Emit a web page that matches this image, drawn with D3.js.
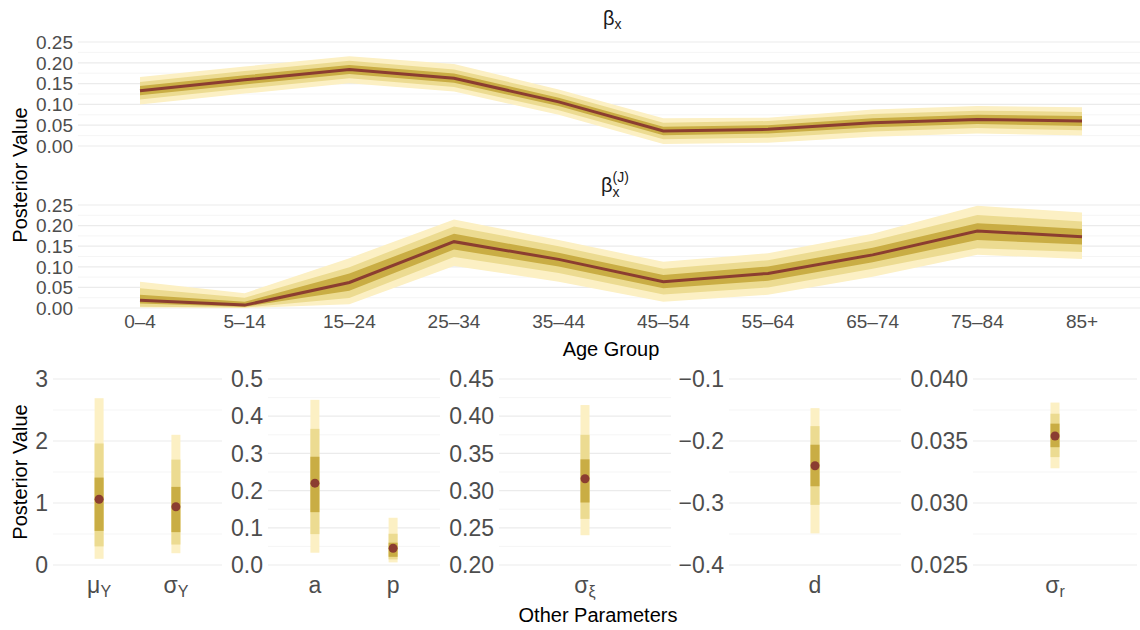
<!doctype html>
<html>
<head>
<meta charset="UTF-8">
<title>posterior</title>
<script src="https://d3js.org/d3.v7.min.js"></script>
<style>
  body { margin: 0; background: #fff; }
  text { font-family: "Liberation Sans", Arial, sans-serif; }
</style>
</head>
<body>
<svg width="1140" height="630"></svg>
<script>
// ---- age-group effects ----
var ageGroups = ["0–4", "5–14", "15–24", "25–34", "35–44", "45–54", "55–64", "65–74", "75–84", "85+"];

var bxMed  = [0.133, 0.159, 0.184, 0.163, 0.106, 0.036, 0.040, 0.056, 0.064, 0.060];
var bxLo95 = [0.100, 0.126, 0.151, 0.131, 0.075, 0.005, 0.008, 0.022, 0.030, 0.025];
var bxHi95 = [0.166, 0.191, 0.216, 0.197, 0.136, 0.067, 0.068, 0.088, 0.096, 0.093];
var bxLo80 = [0.112, 0.138, 0.163, 0.142, 0.086, 0.016, 0.020, 0.035, 0.043, 0.038];
var bxHi80 = [0.154, 0.180, 0.205, 0.184, 0.126, 0.056, 0.060, 0.077, 0.085, 0.082];
var bxLo50 = [0.122, 0.148, 0.173, 0.152, 0.096, 0.026, 0.030, 0.045, 0.053, 0.048];
var bxHi50 = [0.144, 0.170, 0.195, 0.174, 0.116, 0.046, 0.050, 0.067, 0.075, 0.072];

var bjMed  = [0.019, 0.007, 0.062, 0.161, 0.118, 0.064, 0.084, 0.129, 0.187, 0.173];
var bjLo95 = [0.001, 0.000, 0.009, 0.102, 0.064, 0.015, 0.032, 0.076, 0.129, 0.119];
var bjHi95 = [0.064, 0.036, 0.121, 0.215, 0.165, 0.112, 0.133, 0.180, 0.248, 0.232];
var bjLo80 = [0.003, 0.001, 0.024, 0.124, 0.085, 0.033, 0.050, 0.095, 0.145, 0.136];
var bjHi80 = [0.048, 0.025, 0.099, 0.198, 0.150, 0.095, 0.116, 0.163, 0.226, 0.210];
var bjLo50 = [0.011, 0.003, 0.042, 0.142, 0.101, 0.048, 0.066, 0.111, 0.165, 0.154];
var bjHi50 = [0.032, 0.015, 0.084, 0.180, 0.134, 0.080, 0.101, 0.146, 0.206, 0.192];

var topTicks = [0, 0.05, 0.10, 0.15, 0.20, 0.25];

// ---- other parameters ----
var parMain  = ["μ", "σ", "a", "p", "σ", "d", "σ"];
var parSub   = ["Y", "Y", "", "", "ξ", "", "r"];
var parPanel = [0, 0, 1, 1, 2, 3, 4];
var parMed   = [1.06, 0.94, 0.220, 0.045, 0.316, -0.240, 0.0354];
var parLo95  = [0.10, 0.19, 0.033, 0.007, 0.240, -0.349, 0.0328];
var parHi95  = [2.69, 2.10, 0.444, 0.127, 0.415, -0.147, 0.0381];
var parLo80  = [0.30, 0.33, 0.083, 0.015, 0.262, -0.303, 0.0337];
var parHi80  = [1.96, 1.70, 0.366, 0.084, 0.375, -0.176, 0.0372];
var parLo50  = [0.55, 0.53, 0.142, 0.022, 0.284, -0.273, 0.0345];
var parHi50  = [1.41, 1.26, 0.291, 0.060, 0.342, -0.206, 0.0364];

var panelTicks = [
    [0, 1, 2, 3],
    [0, 0.1, 0.2, 0.3, 0.4, 0.5],
    [0.20, 0.25, 0.30, 0.35, 0.40, 0.45],
    [-0.4, -0.3, -0.2, -0.1],
    [0.025, 0.030, 0.035, 0.040]
];
var panelFormat = [d3.format(".0f"), d3.format(".1f"), d3.format(".2f"), d3.format(".1f"), d3.format(".3f")];

// ---- layout ----
var c95 = "#fcf0c4", c80 = "#ecdb91", c50 = "#c9ad44", cMed = "#8b3d30";
var gridMajor = "#ebebeb", gridMinor = "#f2f2f2", tickCol = "#4d4d4d";

var svg = d3.select("svg");
var x0 = 78, x1 = 1140;
var xAge = d3.scalePoint().domain(ageGroups).range([140, 1082]);

function minus(s) { return s.replace("-", "−"); }

function drawGrid(g, y, ticks, left, right) {
    for (var i = 0; i < ticks.length - 1; i++) {
        var m = (ticks[i] + ticks[i + 1]) / 2;
        g.append("line").attr("x1", left).attr("x2", right)
            .attr("y1", y(m)).attr("y2", y(m))
            .attr("stroke", gridMinor).attr("stroke-width", 0.8);
    }
    ticks.forEach(function (t) {
        g.append("line").attr("x1", left).attr("x2", right)
            .attr("y1", y(t)).attr("y2", y(t))
            .attr("stroke", gridMajor).attr("stroke-width", 1.2);
    });
}

function ribbonPanel(yTop, yBottom, med, lo95, hi95, lo80, hi80, lo50, hi50) {
    var y = d3.scaleLinear().domain([0, 0.25]).range([yBottom, yTop]);
    var g = svg.append("g");
    drawGrid(g, y, topTicks, x0, x1);
    g.selectAll(".tk").data(topTicks).enter().append("text")
        .attr("x", 73).attr("y", function (d) { return y(d); })
        .attr("dy", "0.36em").attr("text-anchor", "end")
        .attr("font-size", 19).attr("fill", tickCol)
        .text(function (d) { return d3.format(".2f")(d); });

    var bands = [[lo95, hi95, c95], [lo80, hi80, c80], [lo50, hi50, c50]];
    bands.forEach(function (b) {
        var area = d3.area()
            .x(function (d, i) { return xAge(ageGroups[i]); })
            .y0(function (d, i) { return y(b[0][i]); })
            .y1(function (d, i) { return y(b[1][i]); });
        g.append("path").datum(ageGroups).attr("d", area).attr("fill", b[2]);
    });
    var line = d3.line()
        .x(function (d, i) { return xAge(ageGroups[i]); })
        .y(function (d) { return y(d); });
    g.append("path").datum(med).attr("d", line)
        .attr("fill", "none").attr("stroke", cMed).attr("stroke-width", 3);
    return g;
}

ribbonPanel(42, 146, bxMed, bxLo95, bxHi95, bxLo80, bxHi80, bxLo50, bxHi50);
ribbonPanel(205, 308, bjMed, bjLo95, bjHi95, bjLo80, bjHi80, bjLo50, bjHi50);

// titles
var t1 = svg.append("text").attr("x", 603).attr("y", 25).attr("font-size", 20).attr("fill", "#1a1a1a");
t1.append("tspan").text("β");
t1.append("tspan").attr("dy", 4).attr("font-size", 14).text("x");

var t2 = svg.append("text").attr("x", 601).attr("y", 192).attr("font-size", 20).attr("fill", "#1a1a1a");
t2.append("tspan").text("β");
var sx = t2.append("tspan").attr("dy", 5).attr("font-size", 14).text("x");
var wx = sx.node().getComputedTextLength();
t2.append("tspan").attr("dx", -wx).attr("dy", -15).attr("font-size", 14).text("(J)");

// age axis labels
svg.selectAll(".age").data(ageGroups).enter().append("text")
    .attr("x", function (d) { return xAge(d); }).attr("y", 328)
    .attr("text-anchor", "middle").attr("font-size", 19).attr("fill", tickCol)
    .text(function (d) { return d; });

svg.append("text").attr("x", 611).attr("y", 356).attr("text-anchor", "middle")
    .attr("font-size", 20).attr("fill", "#000").text("Age Group");

svg.append("text").attr("transform", "translate(27,175) rotate(-90)")
    .attr("text-anchor", "middle").attr("font-size", 20).attr("fill", "#000").text("Posterior Value");

// ---- bottom panels ----
var panelLeft = [53, 268, 499, 729, 973];
var panelWidth = [169, 172, 172, 172, 164];
var yB0 = 565, yB1 = 379;

panelTicks.forEach(function (ticks, p) {
    var left = panelLeft[p], right = left + panelWidth[p];
    var y = d3.scaleLinear().domain([ticks[0], ticks[ticks.length - 1]]).range([yB0, yB1]);
    var g = svg.append("g");
    drawGrid(g, y, ticks, left, right);
    g.selectAll(".tk").data(ticks).enter().append("text")
        .attr("x", left - 5).attr("y", function (d) { return y(d); })
        .attr("dy", "0.36em").attr("text-anchor", "end")
        .attr("font-size", 23).attr("fill", tickCol)
        .text(function (d) { return minus(panelFormat[p](d)); });

    var idx = [];
    parPanel.forEach(function (q, i) { if (q === p) idx.push(i); });
    var xs = d3.scalePoint().domain(idx).range([left, right]).padding(0.6);
    if (idx.length === 1) xs = function () { return left + panelWidth[p] / 2; };

    var bw = 9;
    [[parLo95, parHi95, c95], [parLo80, parHi80, c80], [parLo50, parHi50, c50]].forEach(function (b) {
        g.selectAll(null).data(idx).enter().append("rect")
            .attr("x", function (i) { return xs(i) - bw / 2; })
            .attr("width", bw)
            .attr("y", function (i) { return y(b[1][i]); })
            .attr("height", function (i) { return y(b[0][i]) - y(b[1][i]); })
            .attr("fill", b[2]);
    });
    g.selectAll(null).data(idx).enter().append("circle")
        .attr("cx", function (i) { return xs(i); })
        .attr("cy", function (i) { return y(parMed[i]); })
        .attr("r", 4.5).attr("fill", cMed);

    idx.forEach(function (i) {
        var t = g.append("text").attr("x", xs(i)).attr("y", 593)
            .attr("text-anchor", "middle").attr("font-size", 23).attr("fill", tickCol);
        t.append("tspan").text(parMain[i]);
        if (parSub[i]) t.append("tspan").attr("dy", 4).attr("font-size", 16).text(parSub[i]);
    });
});

svg.append("text").attr("x", 598).attr("y", 622).attr("text-anchor", "middle")
    .attr("font-size", 20).attr("fill", "#000").text("Other Parameters");

svg.append("text").attr("transform", "translate(27,472) rotate(-90)")
    .attr("text-anchor", "middle").attr("font-size", 20).attr("fill", "#000").text("Posterior Value");
</script>
</body>
</html>
